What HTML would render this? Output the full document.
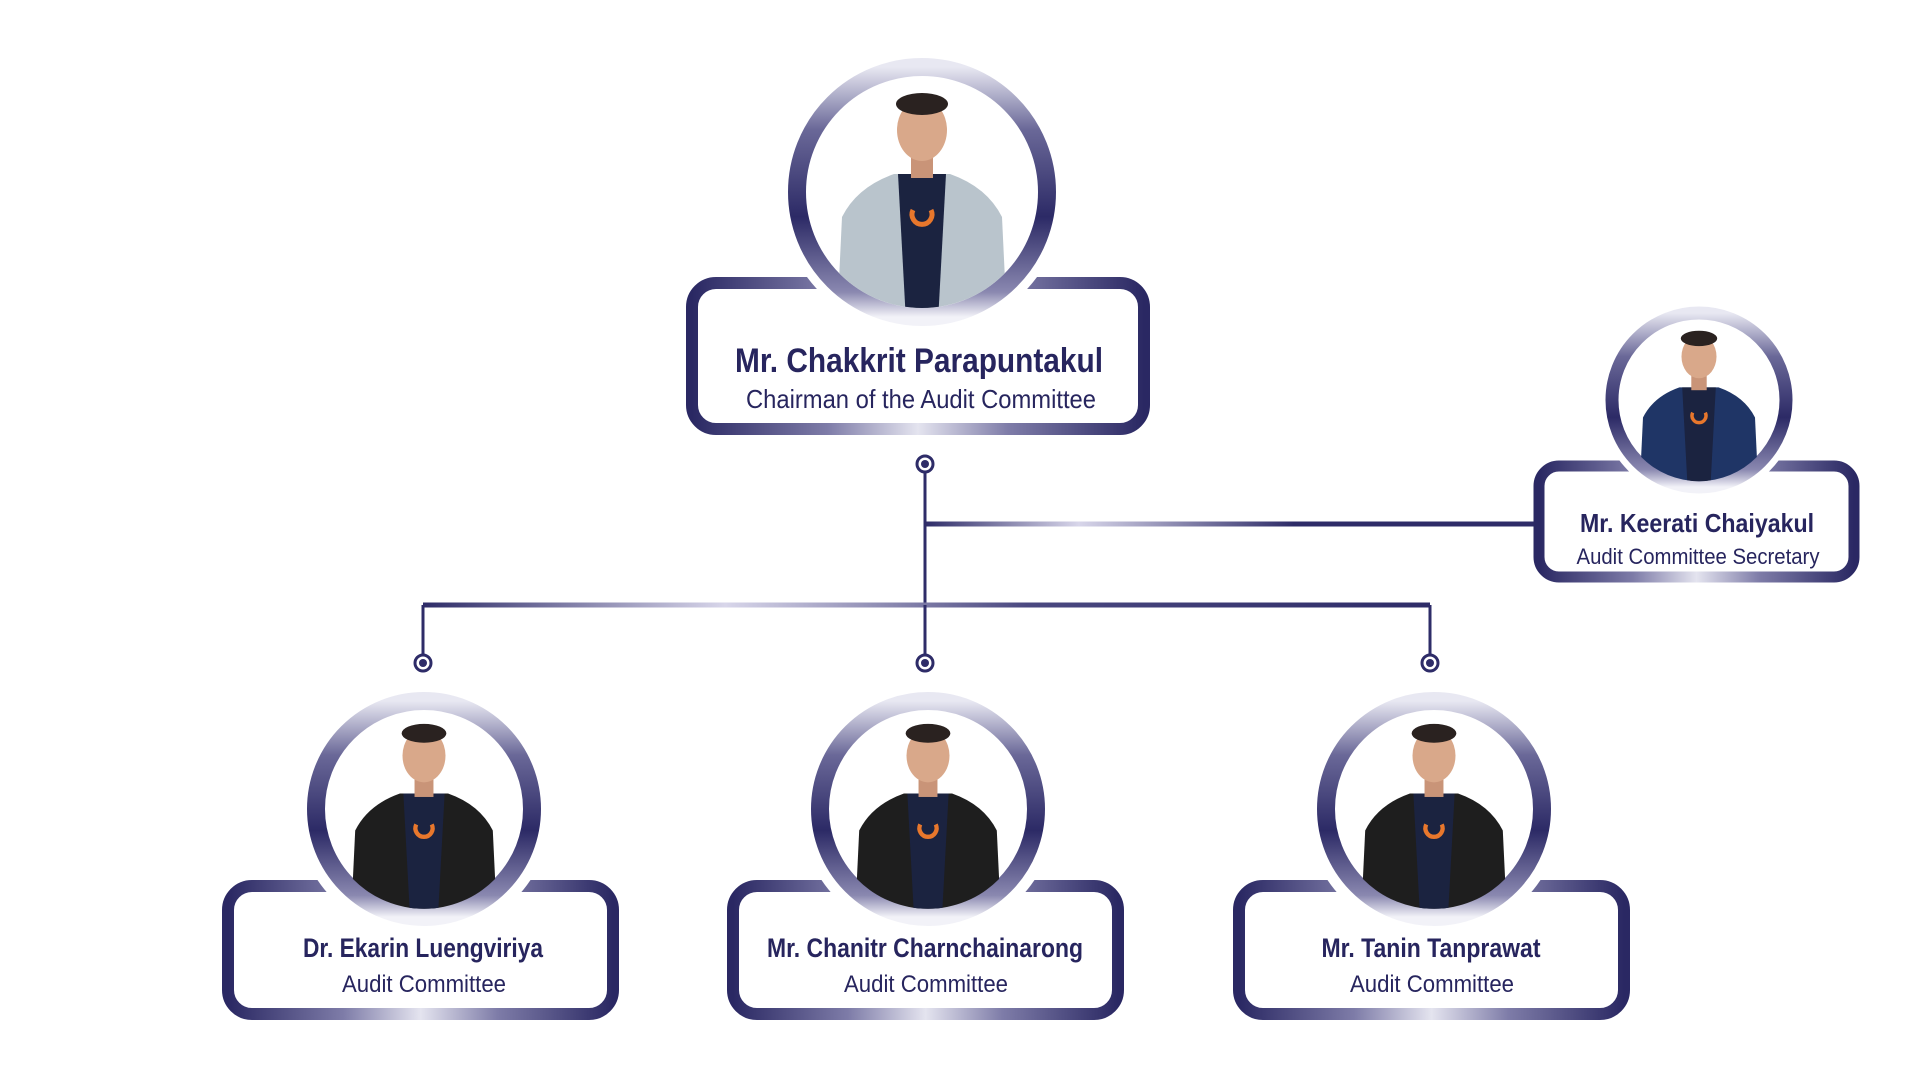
<!DOCTYPE html>
<html><head><meta charset="utf-8"><style>
html,body{margin:0;padding:0;background:#fff;width:1920px;height:1080px;overflow:hidden}
text{font-family:"Liberation Sans Narrow","Liberation Sans",sans-serif;fill:#27255e;text-anchor:middle}
.n{font-weight:bold}
</style></head><body>
<svg width="1920" height="1080" viewBox="0 0 1920 1080" xmlns="http://www.w3.org/2000/svg">
<defs>
<linearGradient id="ring" x1="0" y1="0" x2="0" y2="1">
<stop offset="0" stop-color="#e8e8f2"/><stop offset="0.25" stop-color="#6a6898"/><stop offset="0.6" stop-color="#2c2a66"/><stop offset="0.9" stop-color="#8a88b0"/><stop offset="1" stop-color="#f2f2f8"/>
</linearGradient>
<linearGradient id="box" x1="0" y1="0" x2="1" y2="0">
<stop offset="0" stop-color="#2a2863"/><stop offset="0.3" stop-color="#7e7ca8"/><stop offset="0.5" stop-color="#e4e4ef"/><stop offset="0.7" stop-color="#7e7ca8"/><stop offset="1" stop-color="#2a2863"/>
</linearGradient>
<linearGradient id="ln1" gradientUnits="userSpaceOnUse" x1="423" y1="0" x2="1430" y2="0">
<stop offset="0" stop-color="#2e2c68"/><stop offset="0.3" stop-color="#d8d6ea"/><stop offset="0.6" stop-color="#4a4880"/><stop offset="1" stop-color="#2e2c68"/>
</linearGradient>
<linearGradient id="ln2" gradientUnits="userSpaceOnUse" x1="925" y1="0" x2="1540" y2="0">
<stop offset="0" stop-color="#2e2c68"/><stop offset="0.25" stop-color="#d8d6ea"/><stop offset="0.6" stop-color="#2e2c68"/><stop offset="1" stop-color="#2e2c68"/>
</linearGradient>
<g id="person">
<path d="M-85,130 L-80,25 Q-65,-5 -28,-18 L28,-18 Q65,-5 80,25 L85,130 Z" fill="inherit"/>
<path d="M-24,-18 L24,-18 L16,130 L-16,130 Z" fill="#1b2340"/>
<rect x="-11" y="-36" width="22" height="22" fill="#c99478"/>
<ellipse cx="0" cy="-62" rx="25" ry="31" fill="#d9a88a"/>
<ellipse cx="0" cy="-88" rx="26" ry="11" fill="#2a2220"/>
<path d="M-9,18 A10,10 0 1 0 9,18" stroke="#e8772c" stroke-width="5" fill="none"/>
</g>
<clipPath id="c"><circle cx="0" cy="0" r="116"/></clipPath>
</defs>

<!-- connectors -->
<line x1="925" y1="464" x2="925" y2="605" stroke="#2e2c68" stroke-width="3"/>
<line x1="925" y1="524" x2="1540" y2="524" stroke="url(#ln2)" stroke-width="5"/>
<line x1="423" y1="605" x2="1430" y2="605" stroke="url(#ln1)" stroke-width="5"/>
<line x1="423" y1="605" x2="423" y2="663" stroke="#2e2c68" stroke-width="3"/>
<line x1="1430" y1="605" x2="1430" y2="663" stroke="#2e2c68" stroke-width="3"/>
<line x1="925" y1="605" x2="925" y2="663" stroke="#2e2c68" stroke-width="3"/>
<g fill="#fff" stroke="#2e2c68" stroke-width="3">
<circle cx="925" cy="464" r="8"/><circle cx="423" cy="663" r="8"/><circle cx="925" cy="663" r="8"/><circle cx="1430" cy="663" r="8"/>
</g>
<g fill="#2e2c68"><circle cx="925" cy="464" r="4"/><circle cx="423" cy="663" r="4"/><circle cx="925" cy="663" r="4"/><circle cx="1430" cy="663" r="4"/></g>

<!-- chairman -->
<rect x="692" y="283" width="452" height="146" rx="24" fill="#fff" stroke="url(#box)" stroke-width="12"/>
<circle cx="922" cy="192" r="143" fill="#fff"/>
<circle cx="922" cy="192" r="125" fill="#fff" stroke="url(#ring)" stroke-width="18"/>
<g transform="translate(922,192)" clip-path="url(#c)"><use href="#person" fill="#b9c4cc"/></g>
<text x="919" y="372" class="n" font-size="34" textLength="368" lengthAdjust="spacingAndGlyphs">Mr. Chakkrit Parapuntakul</text>
<text x="921" y="408" font-size="26" textLength="350" lengthAdjust="spacingAndGlyphs">Chairman of the Audit Committee</text>

<!-- secretary -->
<rect x="1539" y="466" width="315" height="111" rx="20" fill="#fff" stroke="url(#box)" stroke-width="11"/>
<circle cx="1699" cy="400" r="100" fill="#fff"/>
<circle cx="1699" cy="400" r="87" fill="#fff" stroke="url(#ring)" stroke-width="13"/>
<g transform="translate(1699,400) scale(0.7)" clip-path="url(#c)"><use href="#person" fill="#1f3566"/></g>
<text x="1697" y="532" class="n" font-size="26" textLength="234" lengthAdjust="spacingAndGlyphs">Mr. Keerati Chaiyakul</text>
<text x="1698" y="564" font-size="22" textLength="243" lengthAdjust="spacingAndGlyphs">Audit Committee Secretary</text>

<!-- bottom three -->
<g>
<rect x="228" y="886" width="385" height="128" rx="24" fill="#fff" stroke="url(#box)" stroke-width="12"/>
<circle cx="424" cy="809" r="128" fill="#fff"/>
<circle cx="424" cy="809" r="108" fill="#fff" stroke="url(#ring)" stroke-width="18"/>
<g transform="translate(424,809) scale(0.86)" clip-path="url(#c)"><use href="#person" fill="#1e1e1e"/></g>
<text x="423" y="957" class="n" font-size="27" textLength="240" lengthAdjust="spacingAndGlyphs">Dr. Ekarin Luengviriya</text>
<text x="424" y="992" font-size="24" textLength="164" lengthAdjust="spacingAndGlyphs">Audit Committee</text>
</g>
<g>
<rect x="733" y="886" width="385" height="128" rx="24" fill="#fff" stroke="url(#box)" stroke-width="12"/>
<circle cx="928" cy="809" r="128" fill="#fff"/>
<circle cx="928" cy="809" r="108" fill="#fff" stroke="url(#ring)" stroke-width="18"/>
<g transform="translate(928,809) scale(0.86)" clip-path="url(#c)"><use href="#person" fill="#1e1e1e"/></g>
<text x="925" y="957" class="n" font-size="27" textLength="316" lengthAdjust="spacingAndGlyphs">Mr. Chanitr Charnchainarong</text>
<text x="926" y="992" font-size="24" textLength="164" lengthAdjust="spacingAndGlyphs">Audit Committee</text>
</g>
<g>
<rect x="1239" y="886" width="385" height="128" rx="24" fill="#fff" stroke="url(#box)" stroke-width="12"/>
<circle cx="1434" cy="809" r="128" fill="#fff"/>
<circle cx="1434" cy="809" r="108" fill="#fff" stroke="url(#ring)" stroke-width="18"/>
<g transform="translate(1434,809) scale(0.86)" clip-path="url(#c)"><use href="#person" fill="#1e1e1e"/></g>
<text x="1431" y="957" class="n" font-size="27" textLength="219" lengthAdjust="spacingAndGlyphs">Mr. Tanin Tanprawat</text>
<text x="1432" y="992" font-size="24" textLength="164" lengthAdjust="spacingAndGlyphs">Audit Committee</text>
</g>
</svg>
</body></html>
